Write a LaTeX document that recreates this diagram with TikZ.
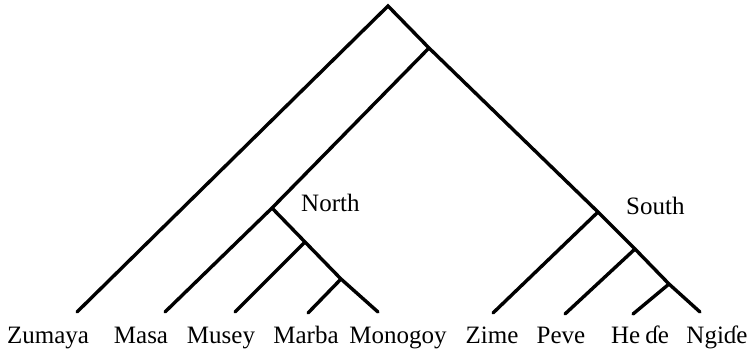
\documentclass[tikz,border=0pt]{standalone}
\usepackage{fontspec}
\setmainfont{Liberation Serif}
\begin{document}
\begin{tikzpicture}[x=1pt,y=-1pt,
  branch/.style={line width=3.4pt,line cap=round},
  lbl/.style={inner sep=0pt,font=\fontsize{25}{29}\selectfont}]
\useasboundingbox (0,0) rectangle (749,353);
% internal nodes
\coordinate (root) at (388,6);
\coordinate (A) at (429,48);
\coordinate (N) at (272,208);
\coordinate (Mu) at (305,242);
\coordinate (Ma) at (341,279);
\coordinate (S) at (598,212);
\coordinate (P) at (635,249);
\coordinate (H) at (669,284);
% leaf ends
\coordinate (zumaya) at (77,312);
\coordinate (masa) at (165,312);
\coordinate (musey) at (235,312);
\coordinate (marba) at (308,313);
\coordinate (monogoy) at (378,312);
\coordinate (zime) at (493,313);
\coordinate (peve) at (565,314);
\coordinate (hede) at (633,314);
\coordinate (ngide) at (700,312);
% branches
\draw[branch] (zumaya) -- (root) -- (A) -- (S) -- (P) -- (H) -- (ngide);
\draw[branch] (A) -- (N) -- (masa);
\draw[branch] (N) -- (Mu) -- (Ma) -- (monogoy);
\draw[branch] (Mu) -- (musey);
\draw[branch] (Ma) -- (marba);
\draw[branch] (S) -- (zime);
\draw[branch] (P) -- (peve);
\draw[branch] (H) -- (hede);
% labels
\node[lbl,anchor=base west] (northlbl) at (301,211) {North};
\node[lbl,anchor=base west] (southlbl) at (626,214) {South};
\node[lbl,anchor=base] (lzumaya) at (48,343) {Zumaya};
\node[lbl,anchor=base] (lmasa) at (141,343) {Masa};
\node[lbl,anchor=base] (lmusey) at (221,343) {Musey};
\node[lbl,anchor=base] (lmarba) at (306,343) {Marba};
\node[lbl,anchor=base] (lmonogoy) at (398,343) {Monogoy};
\node[lbl,anchor=base] (lzime) at (492,343) {Zime};
\node[lbl,anchor=base] (lpeve) at (561,343) {Peve};
\node[lbl,anchor=base] (lhede) at (640,343) {He\hspace{0.2em}ɗe};
\node[lbl,anchor=base] (lngide) at (717,343) {Ngiɗe};
\end{tikzpicture}
\end{document}
